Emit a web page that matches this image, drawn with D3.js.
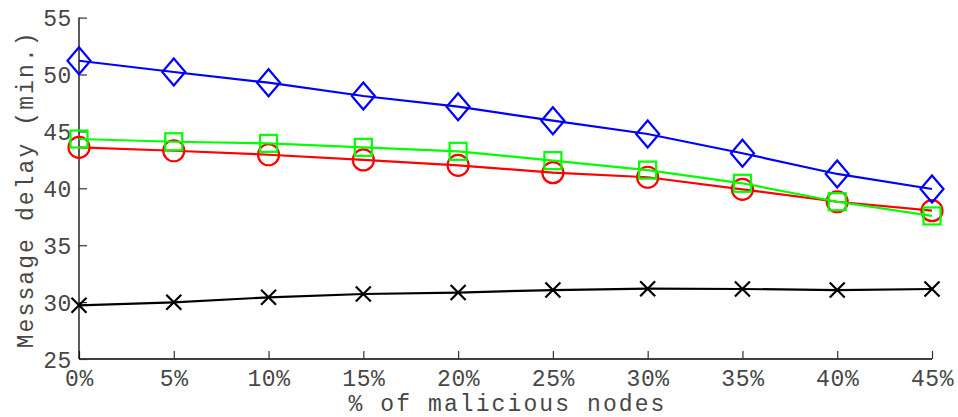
<!DOCTYPE html>
<html>
<head>
<meta charset="utf-8">
<script src="https://cdn.jsdelivr.net/npm/d3@7"></script>
<style>
  html, body { margin: 0; padding: 0; background: #fff; }
  svg { display: block; }
  text { font-family: "Liberation Mono", "Courier New", monospace; fill: #474747; }
</style>
</head>
<body>
<svg id="chart" width="958" height="417"></svg>
<script>
// Percentage of malicious nodes on the x axis
const categories = [0, 5, 10, 15, 20, 25, 30, 35, 40, 45];
const xTickLabels = ["0%", "5%", "10%", "15%", "20%", "25%", "30%", "35%", "40%", "45%"];
const yTicks = [25, 30, 35, 40, 45, 50, 55];

// Message delay (minutes) for each scheme
const diamondSeries = [51.21, 50.22, 49.28, 48.11, 47.17, 45.94, 44.77, 43.08, 41.26, 39.94];
const squareSeries  = [44.33, 44.09, 43.95, 43.60, 43.25, 42.43, 41.60, 40.44, 38.82, 37.57];
const circleSeries  = [43.60, 43.30, 42.95, 42.49, 42.02, 41.37, 40.97, 39.91, 38.82, 38.03];
const crossSeries   = [29.72, 29.98, 30.42, 30.71, 30.84, 31.06, 31.18, 31.15, 31.06, 31.15];

const series = [
  { values: crossSeries,   color: "#000000", marker: "cross" },
  { values: circleSeries,  color: "#ff0000", marker: "circle" },
  { values: squareSeries,  color: "#00ff00", marker: "square" },
  { values: diamondSeries, color: "#0000ff", marker: "diamond" }
];

const svg = d3.select("#chart");
const plotLeft = 79, plotRight = 932, plotTop = 17.6, plotBottom = 359;

const x = d3.scaleLinear().domain([0, 45]).range([plotLeft, plotRight]);
const y = d3.scaleLinear().domain([25, 55]).range([plotBottom, plotTop]);

// Axes with inward ticks
const xAxis = d3.axisBottom(x).tickValues(categories).tickSize(-8)
  .tickFormat((d, i) => xTickLabels[i]).tickPadding(13);
const yAxis = d3.axisLeft(y).tickValues(yTicks).tickSize(-8).tickPadding(7);

const gx = svg.append("g").attr("transform", `translate(0,${plotBottom})`).call(xAxis);
const gy = svg.append("g").attr("transform", `translate(${plotLeft},0)`).call(yAxis);

[gx, gy].forEach(g => {
  g.select(".domain").attr("stroke", "#000").attr("stroke-width", 1.3)
    .attr("d", g === gx ? `M${plotLeft},0H${plotRight}` : `M0,${plotBottom}V${plotTop}`);
  g.selectAll(".tick line").attr("stroke", "#333").attr("stroke-width", 1.2);
  g.selectAll(".tick text").style("font-size", "23px").attr("fill", "#474747")
    .style("letter-spacing", "0.6px")
    .style("font-family", "'Liberation Mono', 'Courier New', monospace");
});
gy.selectAll(".tick text").attr("dy", "0.36em");
gx.selectAll(".tick text").attr("dy", "0.6em");

// Data lines and markers
const line = d3.line().x((d, i) => x(categories[i])).y(d => y(d));

series.forEach(s => {
  const g = svg.append("g");
  g.append("path").datum(s.values).attr("d", line)
    .attr("fill", "none").attr("stroke", s.color).attr("stroke-width", 2.2);
  const pts = g.selectAll("g.pt").data(s.values).join("g")
    .attr("transform", (d, i) => `translate(${x(categories[i])},${y(d)})`);
  const st = { fill: "none", stroke: s.color, "stroke-width": 2.2 };
  let shp;
  if (s.marker === "diamond") {
    shp = pts.append("path").attr("d", "M0,-13.5L11.5,0L0,13.5L-11.5,0Z");
  } else if (s.marker === "square") {
    shp = pts.append("rect").attr("x", -8.5).attr("y", -8.5).attr("width", 17).attr("height", 17);
  } else if (s.marker === "circle") {
    shp = pts.append("circle").attr("r", 10.5);
  } else {
    shp = pts.append("path").attr("d", "M-7.5,-7.5L7.5,7.5M-7.5,7.5L7.5,-7.5");
  }
  Object.entries(st).forEach(([k, v]) => shp.attr(k, v));
});

// Axis titles
svg.append("text").attr("x", (plotLeft + plotRight) / 2 + 2).attr("y", 411)
  .attr("text-anchor", "middle").style("font-size", "23px").style("letter-spacing", "2.1px")
  .text("% of malicious nodes");
svg.append("text")
  .attr("transform", `translate(33,${(plotTop + plotBottom) / 2 + 1}) rotate(-90)`)
  .attr("text-anchor", "middle").style("font-size", "23px").style("letter-spacing", "2.1px")
  .text("Message delay (min.)");
</script>
</body>
</html>
